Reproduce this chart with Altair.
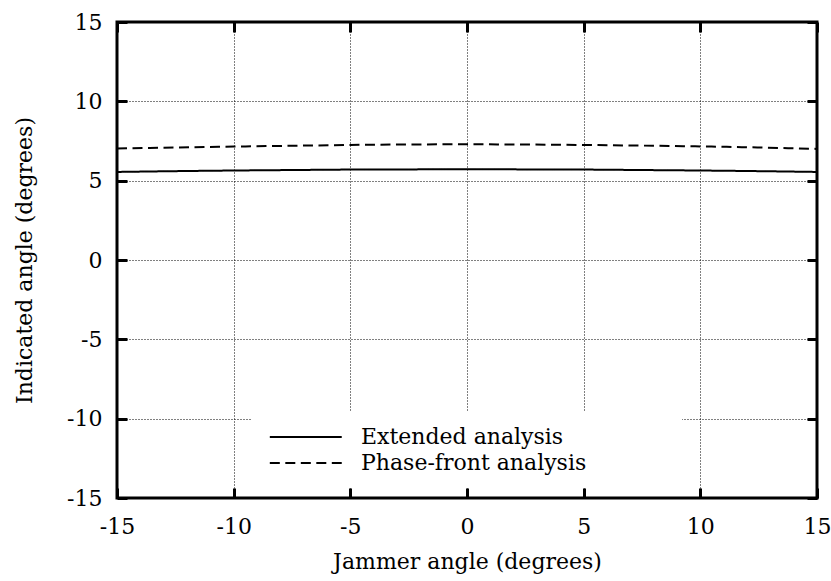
import altair as alt
import pandas as pd

# Data
jammer = [-15, -12.5, -10, -7.5, -5, -2.5, 0, 2.5, 5, 7.5, 10, 12.5, 15]
extended = [5.55, 5.60, 5.64, 5.67, 5.70, 5.71, 5.72, 5.71, 5.70, 5.67, 5.64, 5.60, 5.55]
phase_front = [7.03, 7.09, 7.15, 7.20, 7.25, 7.28, 7.29, 7.28, 7.25, 7.21, 7.16, 7.09, 7.00]
series_names = ["Extended analysis", "Phase-front analysis"]
x_ticks = [-15, -10, -5, 0, 5, 10, 15]
y_ticks = [-15, -10, -5, 0, 5, 10, 15]

rows = []
for name, vals in zip(series_names, [extended, phase_front]):
    for xv, yv in zip(jammer, vals):
        rows.append({"x": xv, "y": yv, "series": name})
df = pd.DataFrame(rows)

FONT = "DejaVu Serif"
FS = 22
TK = 10  # inward tick length

xscale = alt.Scale(domain=[-15, 15], nice=False, zero=False)
yscale = alt.Scale(domain=[-15, 15], nice=False, zero=False)

lines = alt.Chart(df).mark_line(strokeWidth=2, color="black", interpolate="monotone").encode(
    x=alt.X("x:Q", scale=xscale,
            axis=alt.Axis(values=x_ticks, orient="bottom", title="Jammer angle (degrees)",
                          ticks=True, offset=-TK, tickSize=TK, tickWidth=3, tickColor="black",
                          domain=False, labelPadding=18, labelFont=FONT, labelFontSize=FS,
                          labelColor="black", titleFont=FONT, titleFontSize=FS,
                          titleFontWeight="normal", titleColor="black", titlePadding=14,
                          grid=True, gridDash=[1, 2], gridColor="black", gridWidth=1,
                          labelFlush=False, labelExpr="datum.value + ''")),
    y=alt.Y("y:Q", scale=yscale,
            axis=alt.Axis(values=y_ticks, orient="left", title="Indicated angle (degrees)",
                          ticks=True, offset=-TK, tickSize=TK, tickWidth=3, tickColor="black",
                          domain=False, labelPadding=15, labelFont=FONT, labelFontSize=FS,
                          labelColor="black", titleFont=FONT, titleFontSize=FS,
                          titleFontWeight="normal", titleColor="black", titlePadding=30,
                          grid=True, gridDash=[1, 2], gridColor="black", gridWidth=1,
                          labelFlush=False, labelExpr="datum.value + ''")),
    strokeDash=alt.StrokeDash(
        "series:N",
        scale=alt.Scale(domain=series_names, range=[[1, 0], [10, 5.5]]),
        legend=alt.Legend(orient="none", legendX=135, legendY=390, title="Key",
                          titleOrient="right", titlePadding=36, titleOpacity=0,
                          titleFont=FONT, titleFontSize=FS,
                          symbolType="M-1,0H9", symbolSize=207, symbolStrokeWidth=2,
                          symbolStrokeColor="black", labelFont=FONT, labelFontSize=FS,
                          labelColor="black", labelOffset=73, padding=14, labelLimit=600,
                          fillColor="white", rowPadding=4),
    ),
    detail="series:N",
)

frame_ticks = alt.Chart(df).mark_point(opacity=0).encode(
    x=alt.X("x:Q", scale=xscale,
            axis=alt.Axis(values=x_ticks, orient="top", title="", labels=False,
                          ticks=True, offset=-TK, tickSize=TK, tickWidth=3, tickColor="black",
                          domain=False, grid=False)),
    y=alt.Y("y:Q", scale=yscale,
            axis=alt.Axis(values=y_ticks, orient="right", title="", labels=False,
                          ticks=True, offset=-TK, tickSize=TK, tickWidth=3, tickColor="black",
                          domain=False, grid=False)),
)

chart = alt.layer(lines, frame_ticks).resolve_axis(
    x="independent", y="independent"
).properties(
    width=700, height=476,
    autosize=alt.AutoSizeParams(type="none"),
    padding={"left": 117, "top": 22, "right": 14, "bottom": 83},
    background="white",
).configure_view(stroke="black", strokeWidth=3)

chart.save("out.html", embed_options={"renderer": "svg", "actions": False})
